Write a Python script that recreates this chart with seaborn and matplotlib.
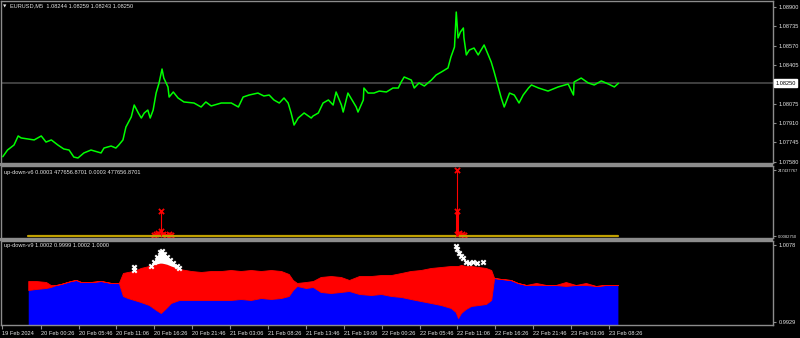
import matplotlib
matplotlib.use("Agg")
import matplotlib.pyplot as plt
import numpy as np
import pandas as pd
import seaborn as sns
from matplotlib.patches import Rectangle

# ---------------- data ----------------
symbol_header = "EURUSD,M5  1.08244 1.08259 1.08243 1.08250"
v6_header = "up-down-v6 0.0003 477656.8701 0.0003 477656.8701"
v9_header = "up-down-v9 1.0002 0.9999 1.0002 1.0000"

time_tick_bars = [2, 67, 131, 195, 259, 323, 387, 451, 515, 579, 643, 707, 771, 835, 899, 963, 1027]
time_tick_labels = ["19 Feb 2024", "20 Feb 00:26", "20 Feb 05:46", "20 Feb 11:06", "20 Feb 16:26",
                    "20 Feb 21:46", "21 Feb 03:06", "21 Feb 08:26", "21 Feb 13:46", "21 Feb 19:06",
                    "22 Feb 00:26", "22 Feb 05:46", "22 Feb 11:06", "22 Feb 16:26", "22 Feb 21:46",
                    "23 Feb 03:06", "23 Feb 08:26"]

price_ticks = [1.08900, 1.08735, 1.08570, 1.08405, 1.08075, 1.07910, 1.07745, 1.07580]
bid_price = 1.08250

price_bar = [3, 11, 22, 29, 34, 46, 56, 68, 76, 85, 96, 106, 115, 123, 130, 140, 152, 164, 169, 174,
             186, 194, 199, 206, 211, 220, 225, 232, 237, 242, 248, 252, 257, 262, 267, 272, 275, 282,
             284, 291, 299, 309, 326, 338, 346, 355, 372, 389, 401, 409, 419, 434, 444, 453, 461, 470,
             478, 485, 490, 495, 502, 512, 524, 527, 536, 544, 553, 561, 566, 575, 578, 586, 595, 600,
             603, 612, 613, 620, 630, 639, 651, 662, 671, 676, 681, 693, 698, 706, 715, 727, 735, 744,
             755, 760, 766, 769, 772, 776, 781, 782, 786, 791, 799, 806, 816, 823, 828, 833, 840, 845,
             850, 859, 867, 875, 882, 891, 896, 908, 924, 941, 958, 967, 968, 980, 992, 1002, 1014,
             1026, 1036, 1043]
price_close = [1.07623, 1.07680, 1.07723, 1.07800, 1.07783, 1.07774, 1.07766, 1.07800, 1.07748, 1.07766,
               1.07723, 1.07689, 1.07680, 1.07620, 1.07612, 1.07655, 1.07680, 1.07663, 1.07655, 1.07697,
               1.07714, 1.07697, 1.07723, 1.07766, 1.07876, 1.07962, 1.08064, 1.07996, 1.07953, 1.07996,
               1.08021, 1.07953, 1.08021, 1.08166, 1.08252, 1.08371, 1.08294, 1.08218, 1.08132, 1.08175,
               1.08124, 1.08090, 1.08081, 1.08047, 1.08090, 1.08056, 1.08081, 1.08081, 1.08047, 1.08132,
               1.08149, 1.08166, 1.08141, 1.08149, 1.08107, 1.08081, 1.08124, 1.08081, 1.07996, 1.07893,
               1.07953, 1.07996, 1.07953, 1.07970, 1.07996, 1.08081, 1.08107, 1.08064, 1.08175, 1.08064,
               1.08004, 1.08166, 1.08090, 1.08047, 1.08004, 1.08107, 1.08209, 1.08166, 1.08166, 1.08183,
               1.08175, 1.08209, 1.08209, 1.08260, 1.08303, 1.08277, 1.08209, 1.08252, 1.08226, 1.08277,
               1.08320, 1.08346, 1.08380, 1.08474, 1.08559, 1.08857, 1.08636, 1.08687, 1.08721, 1.08636,
               1.08491, 1.08533, 1.08550, 1.08491, 1.08576, 1.08491, 1.08431, 1.08346, 1.08218, 1.08124,
               1.08047, 1.08166, 1.08149, 1.08081, 1.08149, 1.08209, 1.08235, 1.08209, 1.08183, 1.08218,
               1.08243, 1.08149, 1.08260, 1.08294, 1.08252, 1.08235, 1.08269, 1.08243, 1.08218, 1.08250]

# up-down-v6
v6_tick_labels = ["247437767", "0.0082750"]
v6_max = 2474377.67
v6_line_bar = [46, 1042]
v6_line_val = [0.0003, 0.0003]
v6_spike_bar = [270, 770]
v6_spike_val = [937000, 2474377.67]
v6_thick_bar = [770]
v6_thick_val = [937000]
v6_mark_bar = [270, 770, 770, 258, 262, 266, 270, 274, 279, 283, 287, 770, 774, 778, 782]
v6_mark_val = [937000, 2474377.67, 937000, 37000, 75000, 112000, 187000, 75000, 37000, 75000,
               37000, 75000, 112000, 75000, 37000]

# up-down-v9
v9_ticks = [1.0078, 0.9929]
v9_bar = [46, 59, 76, 84, 93, 101, 118, 127, 135, 152, 169, 186, 199, 206, 214, 225, 236, 250, 262,
          270, 279, 287, 301, 321, 338, 355, 372, 388, 405, 422, 439, 456, 473, 486, 493, 500, 515,
          527, 540, 557, 574, 588, 605, 625, 642, 659, 676, 692, 709, 726, 743, 760, 768, 772, 777,
          785, 794, 807, 819, 828, 833, 845, 861, 873, 887, 904, 921, 937, 954, 971, 988, 1005, 1022,
          1042]
v9_hist = [0.99909, 0.99929, 0.99948, 0.99967, 1.00006, 1.00025, 1.00083, 1.00103, 1.00064, 1.00064,
           1.00083, 1.00045, 1.00045, 0.99793, 0.99754, 0.99716, 0.99677, 0.99619, 0.99522, 0.99464,
           0.99561, 0.99658, 0.99716, 0.99716, 0.99716, 0.99716, 0.99716, 0.99716, 0.99735, 0.99716,
           0.99754, 0.99735, 0.99754, 0.99793, 0.99909, 0.99987, 0.99948, 0.99967, 0.99871, 0.99851,
           0.99871, 0.99890, 0.99832, 0.99812, 0.99832, 0.99793, 0.99774, 0.99735, 0.99696, 0.99658,
           0.99619, 0.99561, 0.99484, 0.99367, 0.99464, 0.99542, 0.99600, 0.99619, 0.99638, 0.99716,
           1.00141, 1.00122, 1.00103, 1.00045, 1.00006, 1.00006, 1.00006, 1.00006, 0.99987, 1.00006,
           1.00006, 0.99987, 1.00006, 1.00006]
v9_upper = [1.00083, 1.00083, 1.00064, 1.00006, 1.00006, 1.00025, 1.00083, 1.00103, 1.00064, 1.00064,
            1.00083, 1.00045, 1.00045, 1.00238, 1.00258, 1.00277, 1.00335, 1.00374, 1.00412, 1.00432,
            1.00412, 1.00374, 1.00316, 1.00277, 1.00258, 1.00277, 1.00277, 1.00296, 1.00277, 1.00296,
            1.00277, 1.00296, 1.00277, 1.00219, 1.00103, 1.00045, 1.00064, 1.00083, 1.00161, 1.00180,
            1.00161, 1.00103, 1.00180, 1.00180, 1.00199, 1.00199, 1.00238, 1.00277, 1.00296, 1.00335,
            1.00354, 1.00374, 1.00374, 1.00374, 1.00393, 1.00374, 1.00374, 1.00354, 1.00335, 1.00296,
            1.00141, 1.00122, 1.00103, 1.00045, 1.00006, 1.00045, 1.00006, 1.00006, 1.00064, 1.00006,
            1.00045, 0.99987, 1.00006, 1.00006]
v9_white_bar = [225, 225, 253, 258, 263, 269, 272, 275, 280, 285, 291, 297, 301,
                768, 770, 774, 777, 780, 785, 791, 797, 804, 814]
v9_white_val = [1.00354, 1.00296, 1.00374, 1.00451, 1.00548, 1.00645, 1.00664, 1.00606, 1.00548,
                1.00490, 1.00432, 1.00374, 1.00335,
                1.00761, 1.00703, 1.00625, 1.00567, 1.00528, 1.00451, 1.00432, 1.00451, 1.00432,
                1.00451]

# ---------------- style ----------------
sns.set_style("dark", {"axes.facecolor": "black", "figure.facecolor": "black",
                       "axes.edgecolor": "#8c8c8c", "axes.grid": False})
plt.rcParams["font.family"] = ["Liberation Sans", "DejaVu Sans"]

W, H = 800, 338
FRAME = "#8c8c8c"
TXT = "#e6e6e6"
FS = 4.1

fig = plt.figure(figsize=(W / 100, H / 100), dpi=100, facecolor="black")


def axes_px(x0, y0, x1, y1):
    return fig.add_axes([x0 / W, 1 - y1 / H, (x1 - x0) / W, (y1 - y0) / H])


ax1 = axes_px(1, 1, 773, 163)
ax2 = axes_px(1, 166, 773, 238)
ax3 = axes_px(1, 241, 773, 325)

for ax in (ax1, ax2, ax3):
    ax.set_facecolor("black")
    ax.set_xlim(0, 1304)
    for s in ax.spines.values():
        s.set_color(FRAME)
        s.set_linewidth(1.0)
    ax.yaxis.tick_right()
    ax.tick_params(axis="y", which="both", direction="out", length=2.5, width=0.8,
                   color=FRAME, labelcolor=TXT, labelsize=FS, pad=1.5, left=False, right=True)

for y0, y1 in [(163, 166), (238, 241)]:
    fig.patches.append(Rectangle((0, 1 - y1 / H), 773 / W, (y1 - y0) / H,
                                 transform=fig.transFigure, facecolor=FRAME, edgecolor="none"))

# ---- panel 1: price ----
ax1.axhline(bid_price, color="#4a4a4a", lw=1.2, zorder=1)
sns.lineplot(x=price_bar, y=price_close, ax=ax1, color="#00ff00", lw=1.1,
             estimator=None, sort=False, zorder=3)
ax1.set_ylim(1.075693, 1.089512)
ax1.set_yticks(price_ticks)
ax1.set_yticklabels([f"{p:.5f}" for p in price_ticks])
ax1.tick_params(axis="x", bottom=False, labelbottom=False)
ax1.text(1.003, bid_price, f"{bid_price:.5f}", transform=ax1.get_yaxis_transform(),
         ha="left", va="center", fontsize=FS, color="black", clip_on=False,
         bbox=dict(boxstyle="square,pad=0.25", facecolor="white", edgecolor="white"))
ax1.set_xlabel(""); ax1.set_ylabel("")

# ---- panel 2: up-down-v6 ----
sns.lineplot(x=v6_line_bar, y=v6_line_val, ax=ax2, color="#c0a000", lw=1.6,
             estimator=None, sort=False)
ax2.vlines(v6_spike_bar, 0, v6_spike_val, color="#ff0000", lw=0.8)
ax2.vlines(v6_thick_bar, 0, v6_thick_val, color="#ff0000", lw=2.2)
sns.scatterplot(x=v6_mark_bar, y=v6_mark_val, ax=ax2, marker="x", color="#ff0000",
                s=14, linewidth=1.3)
ax2.set_ylim(-74981, 2624340)
ax2.set_yticks([v6_max, 0])
ax2.set_yticklabels(v6_tick_labels)
ax2.tick_params(axis="y", labelsize=3.0, pad=1.0)
ax2.tick_params(axis="x", bottom=False, labelbottom=False)
ax2.set_xlabel(""); ax2.set_ylabel("")

# ---- panel 3: up-down-v9 ----
y3_bottom, y3_top = 0.99232, 1.00857
ax3.fill_between(v9_bar, y3_bottom, v9_hist, color="#0000ff", lw=0, zorder=2)
ax3.fill_between(v9_bar, v9_hist, v9_upper, color="#ff0000", lw=0.6, edgecolor="#ff0000", zorder=3)
wb = np.array(v9_white_bar[2:13])
wv = np.array(v9_white_val[2:13])
base = np.interp(wb, v9_bar, v9_upper)
ax3.fill_between(wb, base, wv, color="white", lw=0, zorder=4)
sns.scatterplot(x=v9_white_bar, y=v9_white_val, ax=ax3, marker="X", color="white",
                s=18, linewidth=0, zorder=5)
ax3.set_ylim(y3_bottom, y3_top)
ax3.set_yticks(v9_ticks)
ax3.set_yticklabels([f"{v:.4f}" for v in v9_ticks])
ax3.set_xticks(time_tick_bars)
ax3.set_xticklabels(time_tick_labels)
ax3.tick_params(axis="x", direction="out", length=3, width=0.8, color=FRAME,
                labelcolor=TXT, labelsize=FS, pad=1.0, bottom=True)
for lbl in ax3.get_xticklabels():
    lbl.set_horizontalalignment("left")
ax3.set_xlabel(""); ax3.set_ylabel("")

# ---- headers ----
fig.text(3 / W, 1 - 6 / H, "▼", color=TXT, fontsize=3.2, va="center", ha="left",
         family=["DejaVu Sans"])
fig.text(10 / W, 1 - 6 / H, symbol_header, color=TXT, fontsize=FS, va="center", ha="left")
fig.text(4 / W, 1 - 172 / H, v6_header, color=TXT, fontsize=FS, va="center", ha="left")
fig.text(4 / W, 1 - 246 / H, v9_header, color=TXT, fontsize=FS, va="center", ha="left")

fig.savefig("out.png", dpi=100, facecolor="black")
